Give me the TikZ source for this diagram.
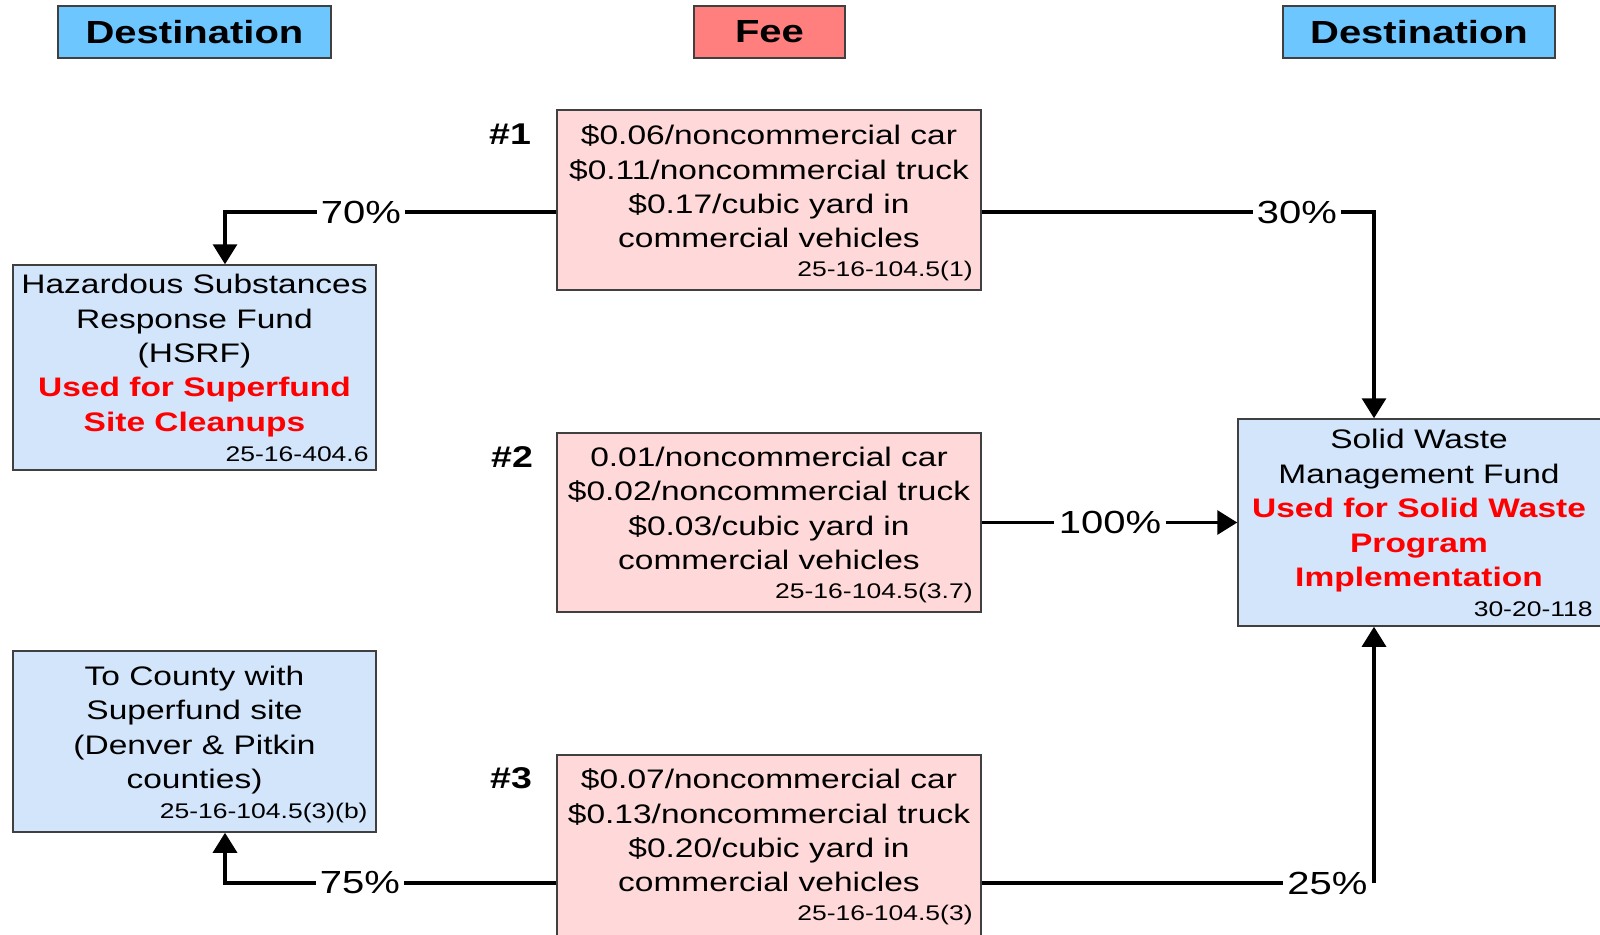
\documentclass[tikz,border=0pt]{standalone}
\usepackage{fontspec}
\setmainfont[FakeStretch=1.25]{Liberation Sans}
\usetikzlibrary{arrows.meta,calc}
\definecolor{hdrblue}{HTML}{6EC6FF}
\definecolor{feered}{HTML}{FF7F7F}
\definecolor{feepink}{HTML}{FFD9D9}
\definecolor{fundblue}{HTML}{D2E5FB}
\definecolor{edgegray}{HTML}{404040}
\definecolor{hotred}{HTML}{FF0000}
\begin{document}
\begin{tikzpicture}[x=0.5pt,y=-0.5pt,
  hdr/.style={draw=edgegray,line width=0.75pt,minimum height=26pt,inner sep=0pt,
    font=\fontsize{16}{19}\selectfont\bfseries},
  feebox/.style={draw=edgegray,line width=0.75pt,fill=feepink,minimum width=212pt,inner sep=0pt},
  fundbox/.style={draw=edgegray,line width=0.75pt,fill=fundblue,minimum width=181.5pt,inner sep=0pt},
  body/.style={align=center,inner sep=0pt,font=\fontsize{13.4}{17.2}\selectfont},
  cite/.style={anchor=east,inner sep=0pt,font=\fontsize{10.6}{12}\selectfont},
  pct/.style={inner sep=2pt,font=\fontsize{16}{18}\selectfont},
  hashlbl/.style={inner sep=0pt,font=\fontsize{15}{18}\selectfont\bfseries},
  conn/.style={line width=1.6pt,black},
  arr/.style={conn,-{Triangle[width=12pt,length=10pt]}}
]
\useasboundingbox (0,0) rectangle (1600,934);
\clip (0,0) rectangle (1600,934);

% headers
\node[hdr,fill=hdrblue,minimum width=136.5pt] (hdrL) at (194.5,32) {Destination};
\node[hdr,fill=feered,minimum width=75.5pt] (hdrF) at (769.5,32) {Fee};
\node[hdr,fill=hdrblue,minimum width=136pt] (hdrR) at (1419,32) {Destination};

% fee boxes
\node[feebox,minimum height=90pt] (f1) at (769,200) {};
\node[body] (f1t) at (769,186.5) {\$0.06/noncommercial car\\\$0.11/noncommercial truck\\\$0.17/cubic yard in\\commercial vehicles};
\node[cite] (f1c) at (973,271) {25-16-104.5(1)};

\node[feebox,minimum height=89.5pt] (f2) at (769,522.5) {};
\node[body] (f2t) at (769,508.5) {0.01/noncommercial car\\\$0.02/noncommercial truck\\\$0.03/cubic yard in\\commercial vehicles};
\node[cite] (f2c) at (973,593) {25-16-104.5(3.7)};

\node[feebox,minimum height=90.5pt] (f3) at (769,845.5) {};
\node[body] (f3t) at (769,830.5) {\$0.07/noncommercial car\\\$0.13/noncommercial truck\\\$0.20/cubic yard in\\commercial vehicles};
\node[cite] (f3c) at (973,915) {25-16-104.5(3)};

% numbering
\node[hashlbl] (h1) at (510,134) {\#1};
\node[hashlbl] (h2) at (512,457) {\#2};
\node[hashlbl] (h3) at (511,778.5) {\#3};

% destination boxes
\node[fundbox,minimum height=102.5pt] (hsrf) at (194.5,367.5) {};
\node[body] (hsrft) at (194.5,355.5) {Hazardous Substances\\Response Fund\\(HSRF)\\{\color{hotred}\bfseries Used for Superfund}\\{\color{hotred}\bfseries Site Cleanups}};
\node[cite] (hsrfc) at (369,454) {25-16-404.6};

\node[fundbox,minimum height=90.5pt] (county) at (194.5,741.5) {};
\node[body] (countyt) at (194.5,730) {To County with\\Superfund site\\(Denver \& Pitkin\\counties)};
\node[cite] (countyc) at (368,813) {25-16-104.5(3)(b)};

\node[fundbox,minimum height=103.5pt] (sw) at (1419.5,522.5) {};
\node[body] (swt) at (1419,510.7) {Solid Waste\\Management Fund\\{\color{hotred}\bfseries Used for Solid Waste}\\{\color{hotred}\bfseries Program}\\{\color{hotred}\bfseries Implementation}};
\node[cite] (swc) at (1593,609) {30-20-118};

% percentage labels
\node[pct] (p70) at (361,212) {70\%};
\node[pct] (p30) at (1297,212) {30\%};
\node[pct] (p100) at (1110,522.5) {100\%};
\node[pct] (p75) at (360,883) {75\%};
\node[pct] (p25) at (1327.5,883) {25\%};
\coordinate (c25) at (1374,883);

% connectors
\draw[conn] ([yshift=-6pt]f1.west) -- (p70);
\draw[arr] (p70) -| ([xshift=15.25pt]hsrf.north);
\draw[conn] ([yshift=-6pt]f1.east) -- (p30);
\draw[arr] (p30) -| ([xshift=-22.75pt]sw.north);
\draw[conn] (f2.east) -- (p100);
\draw[arr] (p100) -- (sw.west);
\draw[conn] ([yshift=-18.75pt]f3.west) -- (p75);
\draw[arr] (p75) -| ([xshift=15.25pt]county.south);
\draw[conn] ([yshift=-18.75pt]f3.east) -- (p25);
\draw[arr] (c25) -- (sw.south -| c25);
\end{tikzpicture}
\end{document}
